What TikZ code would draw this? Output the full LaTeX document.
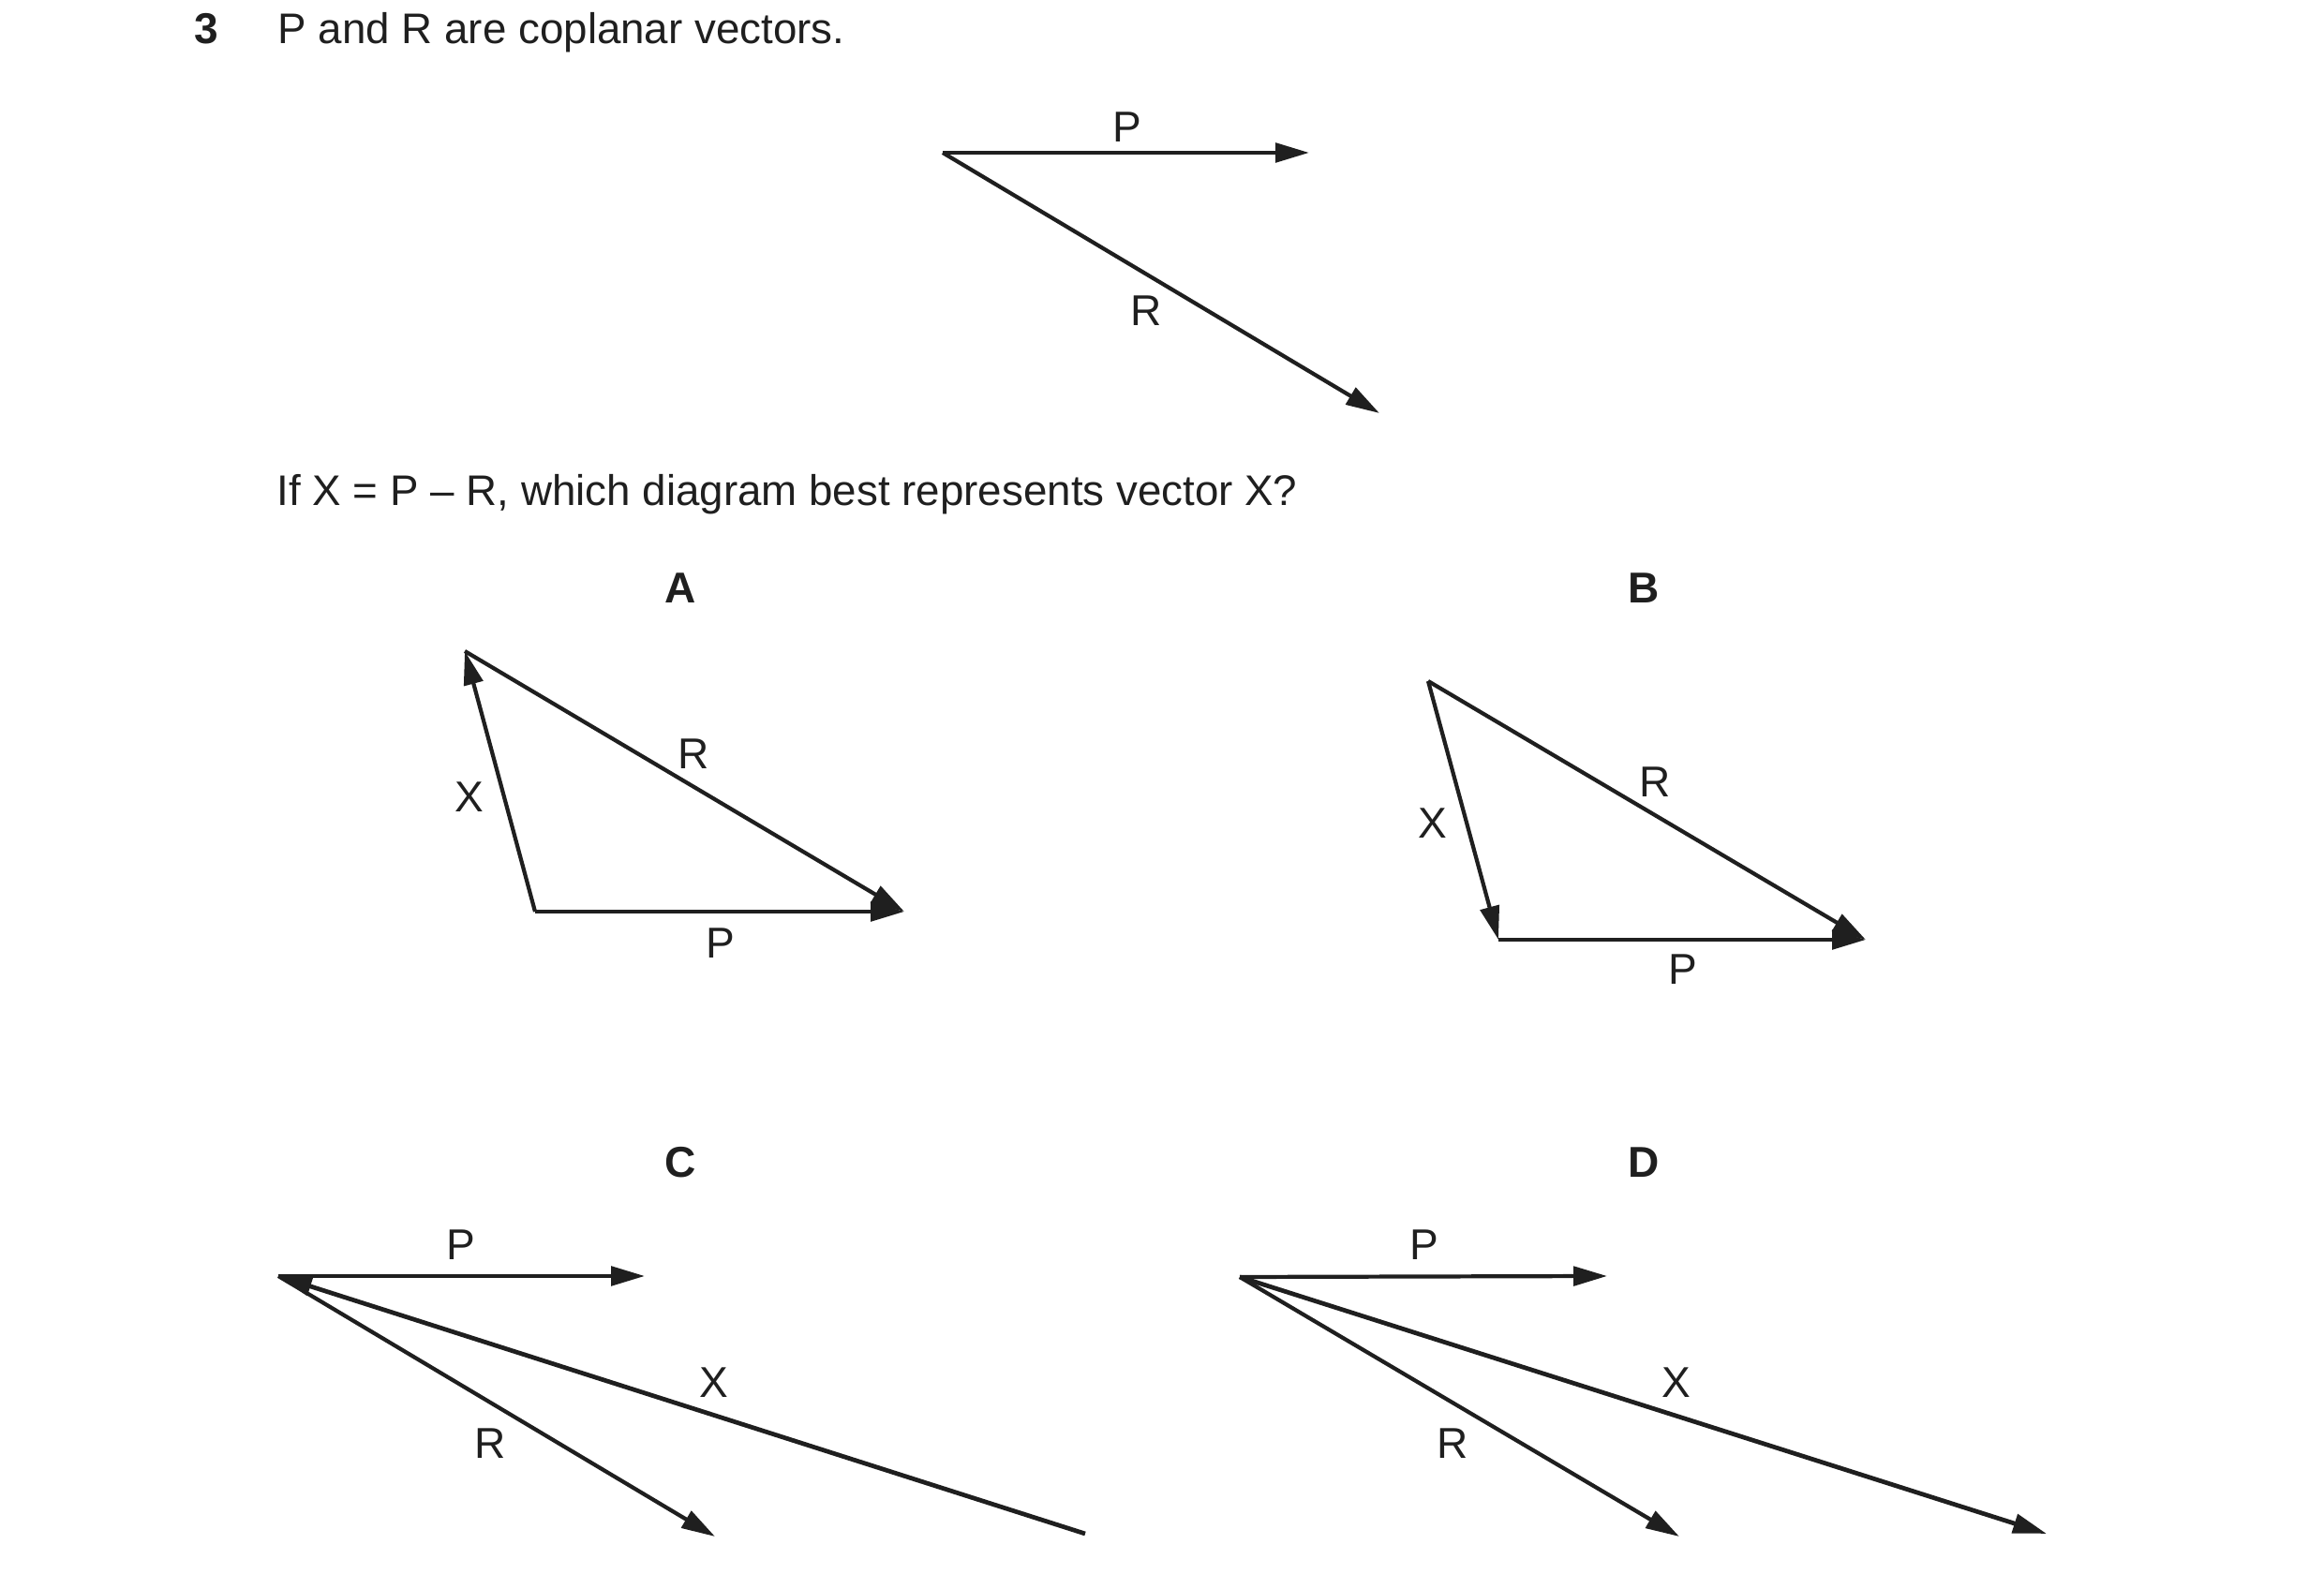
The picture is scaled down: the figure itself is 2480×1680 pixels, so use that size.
\documentclass[tikz,border=0pt]{standalone}
\usepackage{fontspec}
\setmainfont{Liberation Sans}
\usetikzlibrary{arrows.meta}
\begin{document}
\begin{tikzpicture}[x=0.01cm,y=-0.01cm,
  vec/.style={line width=1.2pt,draw=black!88,-{Triangle[length=10.2pt,width=5.8pt]}},
  xvec/.style={vec,line width=1.35pt},
  lbl/.style={inner sep=0pt,font=\fontsize{13.1}{16}\selectfont,text=black!88},
  txt/.style={lbl,anchor=base west,font=\fontsize{13.0}{16}\selectfont},
  opt/.style={lbl,font=\fontsize{13.1}{16}\selectfont\bfseries}]
\useasboundingbox (0,0) rectangle (2480,1680);
% header
\node[txt,font=\fontsize{13.1}{16}\selectfont\bfseries] (num) at (207,47) {3};
\node[txt] (t1) at (296,47) {P and R are coplanar vectors.};
% given vectors
\coordinate (o0) at (1006,163);
\coordinate (p0) at (1397,163);
\coordinate (r0) at (1472,441);
\draw[vec] (o0) -- (p0);
\draw[vec] (o0) -- (r0);
\node[lbl] (lp0) at (1203,136) {P};
\node[lbl] (lr0) at (1223,332) {R};
% question
\node[txt] (t2) at (295,540) {If X = P -- R, which diagram best represents vector X?};
% option labels
\node[opt] (optA) at (726,628) {A};
\node[opt] (optB) at (1754,628) {B};
\node[opt] (optC) at (726,1241) {C};
\node[opt] (optD) at (1754,1241) {D};
% A
\coordinate (aT) at (496,695);
\coordinate (aL) at (571,973);
\coordinate (aR) at (965,973);
\draw[vec] (aL) -- (aT);
\draw[vec] (aT) -- (aR);
\draw[vec] (aL) -- (aR);
\node[lbl] (aX) at (501,851) {X};
\node[lbl] (aRl) at (740,805) {R};
\node[lbl] (aP) at (769,1007) {P};
% B
\coordinate (bT) at (1524,727);
\coordinate (bL) at (1599,1003);
\coordinate (bR) at (1991,1003);
\draw[vec] (bT) -- (bL);
\draw[vec] (bT) -- (bR);
\draw[vec] (bL) -- (bR);
\node[lbl] (bX) at (1529,879) {X};
\node[lbl] (bRl) at (1766,835) {R};
\node[lbl] (bP) at (1796,1035) {P};
% C
\coordinate (cO) at (297,1362);
\coordinate (cP) at (688,1362);
\coordinate (cR) at (763,1640);
\coordinate (cX) at (1158,1637);
\draw[vec] (cO) -- (cP);
\draw[vec] (cO) -- (cR);
\draw[xvec] (cX) -- (cO);
\node[lbl] (cPl) at (492,1329) {P};
\node[lbl] (cRl) at (523,1541) {R};
\node[lbl] (cXl) at (762,1476) {X};
% D
\coordinate (dO) at (1323,1363);
\coordinate (dP) at (1715,1362);
\coordinate (dR) at (1792,1640);
\coordinate (dX) at (2184,1637);
\draw[vec] (dO) -- (dP);
\draw[vec] (dO) -- (dR);
\draw[xvec] (dO) -- (dX);
\node[lbl] (dPl) at (1520,1329) {P};
\node[lbl] (dRl) at (1550,1541) {R};
\node[lbl] (dXl) at (1789,1476) {X};
\end{tikzpicture}
\end{document}
